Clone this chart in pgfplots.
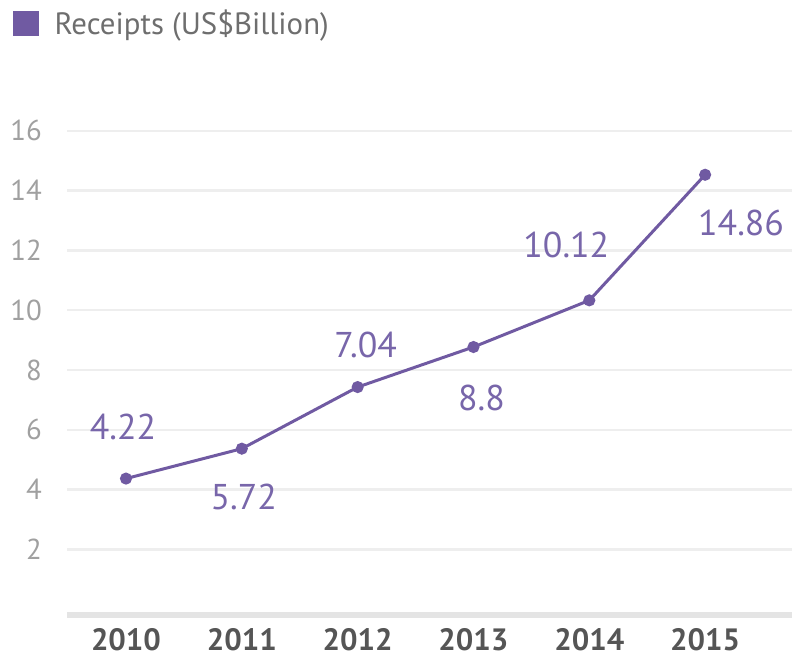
\documentclass[border=0pt]{standalone}
\usepackage{pgfplots}
\pgfplotsset{compat=1.18}
\usepackage{pgfplotstable}
\usepackage{fontspec}
\setmainfont{PT Sans}
\definecolor{rpurple}{RGB}{112,90,162}
\definecolor{lblpurple}{RGB}{120,102,170}
\definecolor{gridgray}{RGB}{238,238,238}
\definecolor{basegray}{RGB}{228,228,228}
\definecolor{tickgray}{RGB}{160,160,160}
\definecolor{yeargray}{RGB}{85,85,85}
\definecolor{leggray}{RGB}{110,110,110}

% x = year index, y = plotted level, lab = printed value, dx/dy = label offset
\pgfplotstableread{
x y lab dx dy
0 4.37 4.22 -3 52
1 5.37 5.72 2 -48
2 7.43 7.04 8 42
3 8.77 8.8 8 -51
4 10.33 10.12 -23 55
5 14.53 14.86 36 -48
}\receipts

\begin{document}
\begin{tikzpicture}
\begin{axis}[
    scale only axis,
    width=726bp, height=497bp,
    xmin=-0.51, xmax=5.75,
    ymin=-0.3, ymax=16.3,
    axis line style={draw=none},
    major tick length=0pt,
    xtick={0,...,5},
    xticklabels={2010,2011,2012,2013,2014,2015},
    ytick={2,4,...,16},
    ymajorgrids,
    grid style={gridgray, line width=2.5bp},
    extra y ticks={-0.2},
    extra y tick labels={},
    extra y tick style={grid style={basegray, line width=6bp}},
    /pgf/number format/assume math mode=true,
    yticklabel style={font=\fontsize{29}{29}\selectfont, text=tickgray, anchor=east, inner sep=0pt, xshift=-25bp},
    xticklabel style={font=\fontsize{31}{31}\selectfont\bfseries, text=yeargray, anchor=center, yshift=-22bp},
    legend style={draw=none, fill=none, at={(0,1)}, anchor=north west,
        xshift=-54bp, yshift=114bp, font=\fontsize{31}{31}\selectfont, text=leggray,
        inner sep=0pt},
    legend cell align=left,
]
\coordinate (O) at (rel axis cs:0,0);
\addlegendimage{legend image code/.code={\fill[rpurple] (0bp,-12bp) rectangle (25bp,12bp); \path (39bp,0bp);}}
\addlegendentry{Receipts (US\$Billion)}
\addplot[rpurple, line width=3bp, mark=*, mark size=4.5bp, forget plot,
    point meta=explicit symbolic,
    visualization depends on={\thisrow{dx} \as \dx},
    visualization depends on={\thisrow{dy} \as \dy},
    nodes near coords,
    every node near coord/.append style={anchor=center, text=lblpurple,
        font=\fontsize{36}{36}\selectfont, xshift=\dx bp, yshift=\dy bp}]
    table[x=x, y=y, meta=lab] {\receipts};
\end{axis}
\path (O) ++(-67bp,-45bp) rectangle ++(795bp,664bp);
\end{tikzpicture}
\end{document}
